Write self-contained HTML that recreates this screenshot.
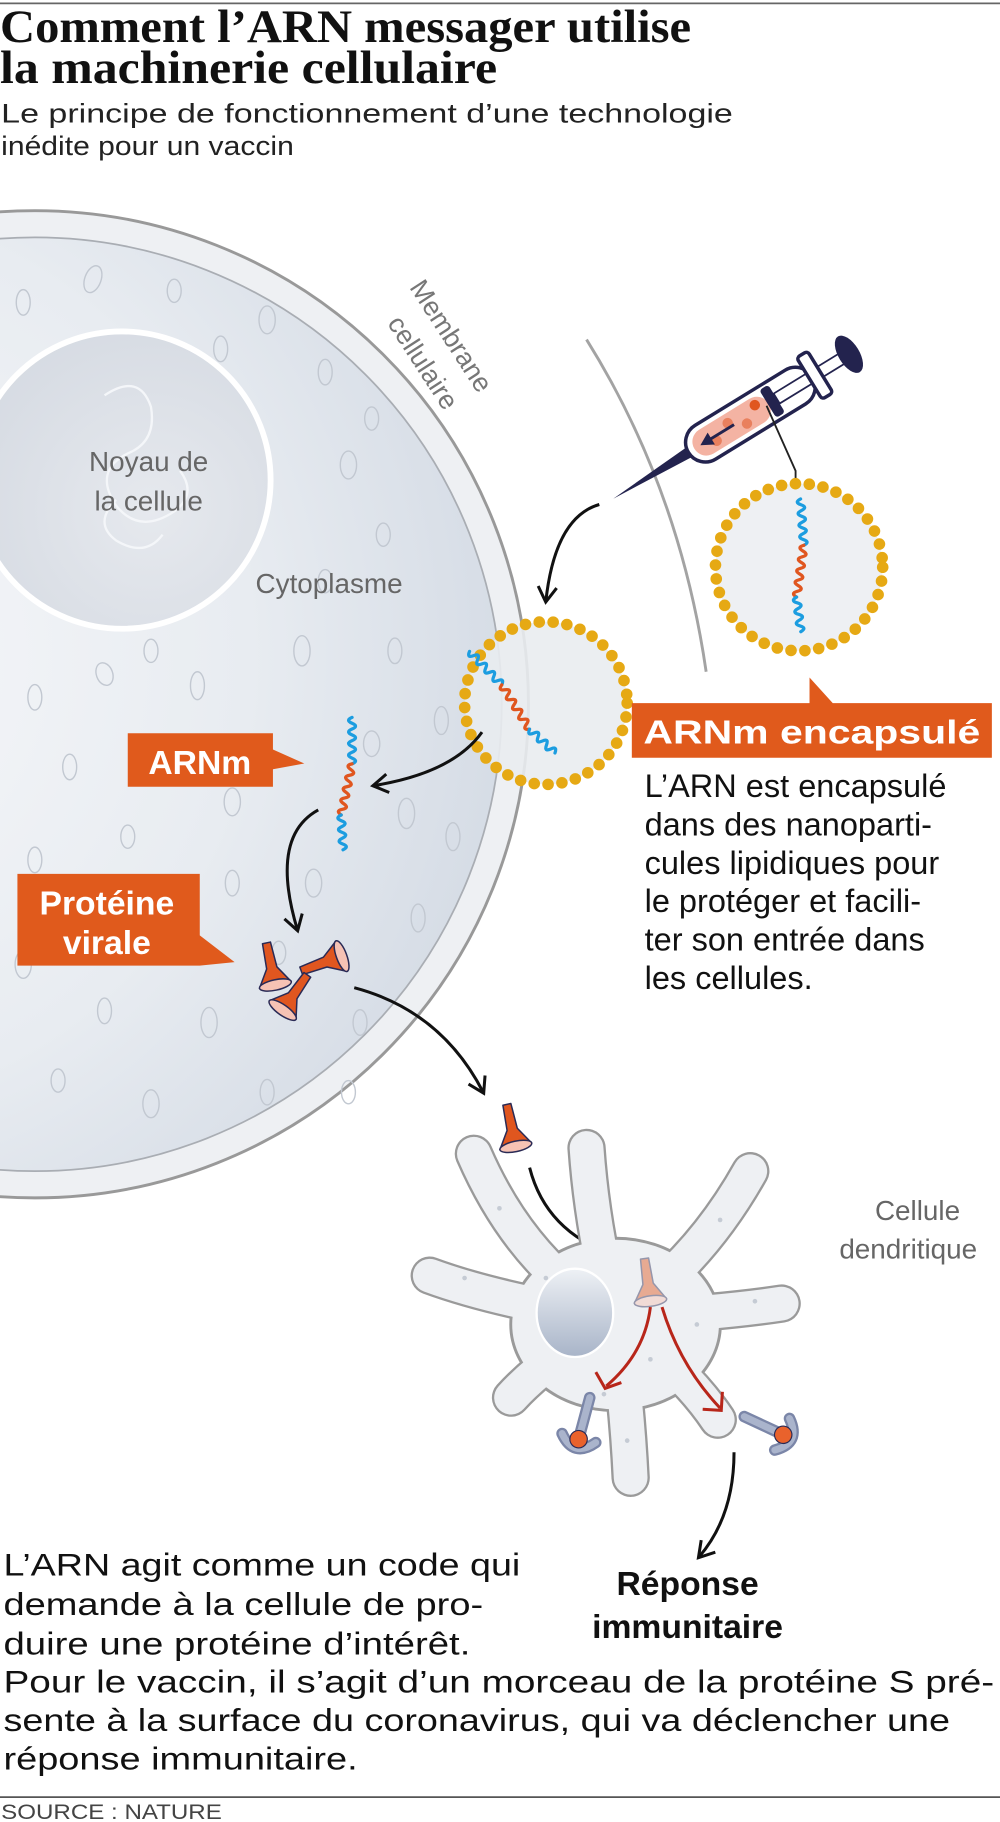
<!DOCTYPE html>
<html><head><meta charset="utf-8"><style>html,body{margin:0;padding:0;background:#fff}svg{display:block}</style></head>
<body>
<svg width="1000" height="1822" viewBox="0 0 861 1568" xmlns="http://www.w3.org/2000/svg" font-family="Liberation Sans, DejaVu Sans, sans-serif">
<defs>
<radialGradient id="cyto" cx="0.25" cy="0.45" r="0.8">
<stop offset="0" stop-color="#f7f8fa"/><stop offset="0.6" stop-color="#e8ecf1"/><stop offset="1" stop-color="#d3dae4"/>
</radialGradient>
<radialGradient id="nuc" cx="0.6" cy="0.6" r="0.7">
<stop offset="0" stop-color="#e6e9ee"/><stop offset="1" stop-color="#d5dae2"/>
</radialGradient>
<linearGradient id="dn" x1="0" y1="0" x2="0" y2="1"><stop offset="0" stop-color="#eef1f5"/><stop offset="1" stop-color="#a8b4c8"/></linearGradient>
<g id="prot">
<path d="M-3.5,-22 L3.5,-22 L4.5,0 L14,15 L-14,15 L-4.5,0 Z" fill="#e0561f" stroke="#2a2a55" stroke-width="1.3" stroke-linejoin="round"/>
<ellipse cx="0" cy="15" rx="14" ry="4.5" fill="#f6c2b4" stroke="#2a2a55" stroke-width="1.3"/>
</g>
<g id="recep">
<path d="M0,-30 L0,0" stroke="#7b86a8" stroke-width="10" stroke-linecap="round"/>
<path d="M0,-30 L0,0" stroke="#aab4cc" stroke-width="6" stroke-linecap="round"/>
<path d="M-15,6 Q0,24 15,6" fill="none" stroke="#7b86a8" stroke-width="10" stroke-linecap="round"/>
<path d="M-15,6 Q0,24 15,6" fill="none" stroke="#aab4cc" stroke-width="6" stroke-linecap="round"/>
<circle cx="0" cy="7" r="7.5" fill="#e9622c" stroke="#2a2a55" stroke-width="1"/>
</g>
<g id="rna" fill="none" stroke-width="2.8" stroke-linejoin="round" stroke-linecap="round">
<path d="M0,-55 q-6,2.5 0,5 q6,2.5 0,5 q-6,2.5 0,5 q6,2.5 0,5 q-6,2.5 0,5 q6,2.5 0,5 q-6,2.5 0,5 q6,2.5 0,5" stroke="#1c9de0" transform="rotate(-12 0 -15)"/>
<path d="M0,-15 q-6,2.5 0,5 q6,2.5 0,5 q-6,2.5 0,5 q6,2.5 0,5 q-6,2.5 0,5 q6,2.5 0,5 q-6,2.5 0,5 q6,2.5 0,5 q-6,2.5 0,5" stroke="#e0561f"/>
<path d="M0,30 q-6,2.5 0,5 q6,2.5 0,5 q-6,2.5 0,5 q6,2.5 0,5 q-6,2.5 0,5 q6,2.5 0,5" stroke="#1c9de0" transform="rotate(-15 0 30)"/>
</g>
<marker id="ah" viewBox="0 0 20 20" refX="14" refY="10" markerWidth="20" markerHeight="20" orient="auto" markerUnits="userSpaceOnUse">
<path d="M2,2 L15,10 L2,18" fill="none" stroke="#111" stroke-width="2.6"/>
</marker>
</defs>

<line x1="0" y1="2.5" x2="861" y2="2.5" stroke="#666" stroke-width="1.5"/>
<text x="0" y="36" font-family="Liberation Serif, serif" font-weight="bold" font-size="40" fill="#111" textLength="595" lengthAdjust="spacingAndGlyphs">Comment l’ARN messager utilise</text>
<text x="0" y="71" font-family="Liberation Serif, serif" font-weight="bold" font-size="40" fill="#111" textLength="428" lengthAdjust="spacingAndGlyphs">la machinerie cellulaire</text>
<text x="1" y="105" font-size="23" fill="#222" textLength="630" lengthAdjust="spacingAndGlyphs">Le principe de fonctionnement d’une technologie</text>
<text x="1" y="133" font-size="23" fill="#222" textLength="252" lengthAdjust="spacingAndGlyphs">inédite pour un vaccin</text>

<!-- big cell -->
<circle cx="30" cy="606" r="425" fill="#eef0f3" stroke="#999" stroke-width="2.5"/>
<circle cx="30" cy="606" r="402" fill="url(#cyto)" stroke="#a9adb3" stroke-width="1.5"/>
<g fill="none" stroke="#c2c8d1" stroke-width="1.2">
<ellipse cx="20" cy="260" rx="6" ry="11"/><ellipse cx="80" cy="240" rx="7" ry="12" transform="rotate(20 80 240)"/>
<ellipse cx="150" cy="250" rx="6" ry="10"/><ellipse cx="230" cy="275" rx="7" ry="12"/><ellipse cx="280" cy="320" rx="6" ry="11"/>
<ellipse cx="300" cy="400" rx="7" ry="12"/><ellipse cx="330" cy="460" rx="6" ry="10"/><ellipse cx="260" cy="560" rx="7" ry="13"/>
<ellipse cx="340" cy="560" rx="6" ry="11"/><ellipse cx="380" cy="620" rx="6" ry="12"/><ellipse cx="30" cy="600" rx="6" ry="11"/>
<ellipse cx="90" cy="580" rx="7" ry="10" transform="rotate(-20 90 580)"/><ellipse cx="170" cy="590" rx="6" ry="12"/>
<ellipse cx="60" cy="660" rx="6" ry="11"/><ellipse cx="200" cy="690" rx="7" ry="12"/><ellipse cx="350" cy="700" rx="7" ry="13"/>
<ellipse cx="30" cy="740" rx="6" ry="11"/><ellipse cx="110" cy="720" rx="6" ry="10"/><ellipse cx="270" cy="760" rx="7" ry="12"/>
<ellipse cx="360" cy="790" rx="6" ry="12"/><ellipse cx="20" cy="830" rx="7" ry="12"/><ellipse cx="90" cy="870" rx="6" ry="11"/>
<ellipse cx="180" cy="880" rx="7" ry="13"/><ellipse cx="310" cy="880" rx="6" ry="11"/><ellipse cx="50" cy="930" rx="6" ry="10"/>
<ellipse cx="130" cy="950" rx="7" ry="12"/><ellipse cx="230" cy="940" rx="6" ry="11"/><ellipse cx="20" cy="400" rx="6" ry="11"/>
<ellipse cx="320" cy="640" rx="7" ry="11"/><ellipse cx="240" cy="820" rx="6" ry="10"/>
<ellipse cx="190" cy="300" rx="6" ry="11"/><ellipse cx="320" cy="360" rx="6" ry="10"/><ellipse cx="200" cy="760" rx="6" ry="11"/>
<ellipse cx="150" cy="660" rx="7" ry="10"/><ellipse cx="60" cy="800" rx="6" ry="11"/><ellipse cx="300" cy="940" rx="6" ry="10"/>
<ellipse cx="390" cy="720" rx="6" ry="12"/><ellipse cx="280" cy="500" rx="6" ry="10"/><ellipse cx="130" cy="560" rx="6" ry="10"/>
</g>
<!-- nucleus -->
<circle cx="105" cy="413" r="128" fill="url(#nuc)" stroke="#fff" stroke-width="5"/>
<path d="M90,340 q30,-20 40,10 q5,30 -20,40 q-30,15 -10,45 q20,25 50,5 q20,-15 5,-35 M100,430 q-20,20 0,35 q25,15 40,-5" fill="none" stroke="#f4f6f9" stroke-width="2"/>
<text x="128" y="405" font-size="24" fill="#666" text-anchor="middle">Noyau de</text>
<text x="128" y="439" font-size="24" fill="#666" text-anchor="middle">la cellule</text>
<text x="220" y="510" font-size="24" fill="#666">Cytoplasme</text>
<text transform="translate(352,247) rotate(57)" font-size="23" fill="#777">Membrane</text>
<text transform="translate(333,278) rotate(57)" font-size="23" fill="#777">cellulaire</text>

<!-- outer membrane arc -->
<path d="M505,292 Q585,420 608,578" fill="none" stroke="#a3a3a3" stroke-width="2.5"/>

<!-- syringe -->
<g transform="translate(528,429) rotate(-31.5)">
<path d="M0,0 L80,-5 L80,5 Z" fill="#23234e"/>
<rect x="76" y="-17" width="125" height="34" rx="17" fill="#fff" stroke="#23234e" stroke-width="3"/>
<rect x="82" y="-12" width="75" height="24" rx="12" fill="#f4b3a3"/>
<circle cx="102" cy="4" r="4.5" fill="#e9805e"/><circle cx="118" cy="-4" r="4.5" fill="#e9805e"/><circle cx="132" cy="5" r="4.5" fill="#e9805e"/><circle cx="146" cy="-5" r="4.5" fill="#e0561f"/>
<path d="M122,0 L95,0" stroke="#23234e" stroke-width="2.5"/><path d="M99,-6 L88,0 L99,6 Z" fill="#23234e"/>
<rect x="156" y="-14" width="9" height="28" rx="3" fill="#23234e"/>
<rect x="165" y="-5" width="66" height="10" fill="#fff" stroke="#23234e" stroke-width="1.5"/>
<rect x="198" y="-21" width="11" height="42" rx="3" fill="#fff" stroke="#23234e" stroke-width="3"/>
<ellipse cx="238" cy="0" rx="9" ry="18" fill="#23234e"/>
</g>
<polyline points="660,349 685,405 685,418" fill="none" stroke="#222" stroke-width="1.6"/>

<!-- right capsule -->
<circle cx="688" cy="488" r="72" fill="#eef0f3"/>
<circle cx="688" cy="488" r="72" fill="none" stroke="#e6a914" stroke-width="10" stroke-dasharray="0 12" stroke-linecap="round"/>
<use href="#rna" transform="translate(690,484) rotate(8)"/>

<!-- arrow syringe -> membrane capsule -->
<path d="M516,434 Q478,445 470,517" fill="none" stroke="#111" stroke-width="2.6" marker-end="url(#ah)"/>

<!-- membrane capsule -->
<circle cx="470" cy="605" r="70" fill="#e9ecf0" opacity="0.9"/>
<circle cx="470" cy="605" r="70" fill="none" stroke="#e6a914" stroke-width="10" stroke-dasharray="0 12" stroke-linecap="round"/>
<use href="#rna" transform="translate(440,602) rotate(-32)"/>

<!-- arrow capsule -> ARNm -->
<path d="M415,630 Q390,665 322,676" fill="none" stroke="#111" stroke-width="2.6" marker-end="url(#ah)"/>
<use href="#rna" transform="translate(300,672) rotate(12)"/>

<!-- ARNm label -->
<path d="M110,631 L235,631 L235,645 L262,657 L235,662 L235,677 L110,677 Z" fill="#e05a1c"/>
<text x="172" y="666" font-size="29" font-weight="bold" fill="#fff" text-anchor="middle">ARNm</text>

<!-- arrow ARNm -> protein -->
<path d="M274,697 Q232,720 256,800" fill="none" stroke="#111" stroke-width="2.6" marker-end="url(#ah)"/>

<!-- Protéine virale label -->
<path d="M15,752 L172,752 L172,805 L202,828 L172,831 L15,831 Z" fill="#e05a1c"/>
<text x="92" y="787" font-size="29" font-weight="bold" fill="#fff" text-anchor="middle">Protéine</text>
<text x="92" y="821" font-size="29" font-weight="bold" fill="#fff" text-anchor="middle">virale</text>

<!-- proteins -->
<use href="#prot" transform="translate(234,833) rotate(-12)"/>
<use href="#prot" transform="translate(280,828) rotate(-110)"/>
<use href="#prot" transform="translate(252,857) rotate(35)"/>

<!-- arrow proteins -> out -->
<path d="M305,850 Q380,870 416,940" fill="none" stroke="#111" stroke-width="2.6" marker-end="url(#ah)"/>
<use href="#prot" transform="translate(441,972) rotate(-12)"/>
<path d="M456,1005 Q470,1060 528,1080" fill="none" stroke="#111" stroke-width="2.6" marker-end="url(#ah)"/>

<!-- dendritic cell -->
<g stroke-linecap="round" fill="none">
<g stroke="#9a9a9a" stroke-width="33">
<path d="M530,1135 Q450,1090 408,993"/><path d="M530,1135 Q510,1060 505,988"/><path d="M530,1135 Q600,1090 646,1008"/>
<path d="M530,1135 Q620,1130 673,1122"/><path d="M530,1135 Q590,1180 618,1222"/><path d="M530,1135 Q540,1210 543,1272"/>
<path d="M530,1135 Q470,1170 440,1203"/><path d="M530,1135 Q430,1120 370,1098"/>
</g>
<ellipse cx="530" cy="1140" rx="90" ry="74" fill="#9a9a9a" stroke="#9a9a9a" stroke-width="3"/>
<g stroke="#eef0f3" stroke-width="29">
<path d="M530,1135 Q450,1090 408,993"/><path d="M530,1135 Q510,1060 505,988"/><path d="M530,1135 Q600,1090 646,1008"/>
<path d="M530,1135 Q620,1130 673,1122"/><path d="M530,1135 Q590,1180 618,1222"/><path d="M530,1135 Q540,1210 543,1272"/>
<path d="M530,1135 Q470,1170 440,1203"/><path d="M530,1135 Q430,1120 370,1098"/>
</g>
<ellipse cx="530" cy="1140" rx="89" ry="73" fill="#eef0f3"/>
</g>
<g fill="#c5cbd4"><circle cx="470" cy="1100" r="2"/><circle cx="560" cy="1170" r="2"/><circle cx="600" cy="1140" r="2"/><circle cx="520" cy="1200" r="2"/><circle cx="430" cy="1040" r="2"/><circle cx="620" cy="1050" r="2"/><circle cx="650" cy="1120" r="2"/><circle cx="540" cy="1240" r="2"/><circle cx="400" cy="1100" r="2"/></g>
<ellipse cx="495" cy="1130" rx="33" ry="38" fill="url(#dn)" stroke="#fff" stroke-width="2"/>
<use href="#prot" transform="translate(558,1105) rotate(-8)" opacity="0.45"/>
<path d="M560,1125 Q555,1165 522,1193" fill="none" stroke="#b8261a" stroke-width="2.6"/>
<path d="M513,1181 L521,1195 L535,1190" fill="none" stroke="#b8261a" stroke-width="2.6"/>
<path d="M570,1125 Q585,1175 620,1212" fill="none" stroke="#b8261a" stroke-width="2.6"/>
<path d="M605,1213 L621,1214 L622,1198" fill="none" stroke="#b8261a" stroke-width="2.6"/>
<use href="#recep" transform="translate(500,1232) rotate(15)"/>
<use href="#recep" transform="translate(668,1232) rotate(-65)"/>
<text x="790" y="1050" font-size="24" fill="#666" text-anchor="middle">Cellule</text>
<text x="782" y="1083" font-size="24" fill="#666" text-anchor="middle">dendritique</text>

<path d="M632,1250 Q632,1305 602,1340" fill="none" stroke="#111" stroke-width="2.6" marker-end="url(#ah)"/>
<text x="592" y="1373" font-size="29" font-weight="bold" fill="#111" text-anchor="middle">Réponse</text>
<text x="592" y="1410" font-size="29" font-weight="bold" fill="#111" text-anchor="middle">immunitaire</text>

<!-- ARNm encapsulé -->
<path d="M544,605 L697,605 L697,583 L717,605 L854,605 L854,652 L544,652 Z" fill="#e05a1c"/>
<text x="699" y="640" font-size="29" font-weight="bold" fill="#fff" text-anchor="middle" textLength="290" lengthAdjust="spacingAndGlyphs">ARNm encapsulé</text>
<g font-size="28" fill="#111">
<text x="555" y="686">L’ARN est encapsulé</text>
<text x="555" y="719">dans des nanoparti-</text>
<text x="555" y="752">cules lipidiques pour</text>
<text x="555" y="785">le protéger et facili-</text>
<text x="555" y="818">ter son entrée dans</text>
<text x="555" y="851">les cellules.</text>
</g>

<!-- bottom paragraph -->
<g font-size="27" fill="#111">
<text x="3" y="1356" textLength="445" lengthAdjust="spacingAndGlyphs">L’ARN agit comme un code qui</text>
<text x="3" y="1390" textLength="413" lengthAdjust="spacingAndGlyphs">demande à la cellule de pro-</text>
<text x="3" y="1424" textLength="402" lengthAdjust="spacingAndGlyphs">duire une protéine d’intérêt.</text>
<text x="3" y="1457" textLength="853" lengthAdjust="spacingAndGlyphs">Pour le vaccin, il s’agit d’un morceau de la protéine S pré-</text>
<text x="3" y="1490" textLength="815" lengthAdjust="spacingAndGlyphs">sente à la surface du coronavirus, qui va déclencher une</text>
<text x="3" y="1523" textLength="305" lengthAdjust="spacingAndGlyphs">réponse immunitaire.</text>
</g>
<line x1="0" y1="1547" x2="861" y2="1547" stroke="#555" stroke-width="1.5"/>
<text x="1" y="1566" font-size="18" fill="#444" textLength="190" lengthAdjust="spacingAndGlyphs">SOURCE : NATURE</text>
</svg>
</body></html>
